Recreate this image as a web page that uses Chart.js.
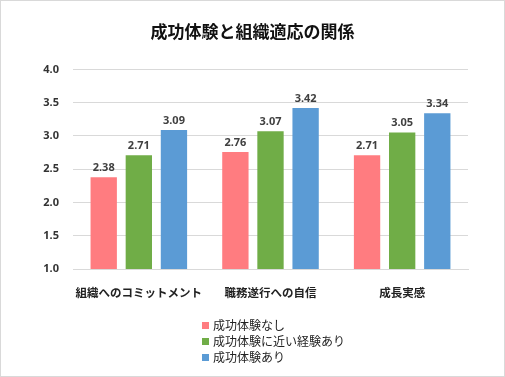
<!DOCTYPE html>
<html><head><meta charset="utf-8">
<script src="https://cdn.jsdelivr.net/npm/chart.js@4"></script>
<style>
html,body{margin:0;padding:0;background:#fff;}
#wrap{position:relative;width:505px;height:377px;overflow:hidden;}
#frame{position:absolute;left:0;top:0;width:503px;height:375px;border:1px solid #d9d9d9;pointer-events:none;}
#legend{position:absolute;left:202px;top:317px;font-family:"Noto Sans CJK JP","Noto Sans",sans-serif;font-size:12px;color:#222;line-height:16px;}
#legend div{display:flex;align-items:center;height:16px;}
#legend span.sw{display:inline-block;width:7px;height:7px;margin-right:4px;}
</style></head>
<body><div id="wrap"><canvas id="c" width="505" height="377"></canvas><div id="legend"></div><div id="frame"></div></div>
<script>
const categories = ["組織へのコミットメント", "職務遂行への自信", "成長実感"];
const seriesNames = ["成功体験なし", "成功体験に近い経験あり", "成功体験あり"];
const noExperience = [2.38, 2.76, 2.71];
const nearExperience = [2.71, 3.07, 3.05];
const withExperience = [3.09, 3.42, 3.34];
const colors = ["#FF7C80", "#70AD47", "#5B9BD5"];
const yTicks = [1.0, 1.5, 2.0, 2.5, 3.0, 3.5, 4.0];
const titleText = "成功体験と組織適応の関係";

const fontFam = "'Noto Sans', 'Noto Sans CJK JP', sans-serif";
const seriesData = [noExperience, nearExperience, withExperience];

const labelPlugin = {
  id: 'valueLabels',
  afterDatasetsDraw(chart) {
    const ctx = chart.ctx;
    ctx.save();
    ctx.font = "bold 11px " + fontFam;
    ctx.fillStyle = "#404040";
    ctx.textAlign = "center";
    ctx.textBaseline = "bottom";
    chart.data.datasets.forEach((ds, i) => {
      const meta = chart.getDatasetMeta(i);
      meta.data.forEach((el, j) => {
        ctx.fillText(ds.data[j].toFixed(2), el.x, el.y - 4);
      });
    });
    ctx.restore();
  }
};

new Chart(document.getElementById('c'), {
  type: 'bar',
  data: {
    labels: categories,
    datasets: seriesNames.map((n, i) => ({
      label: n,
      data: seriesData[i],
      backgroundColor: colors[i],
      categoryPercentage: 0.8,
      barPercentage: 0.75
    }))
  },
  options: {
    responsive: false,
    animation: false,
    devicePixelRatio: 1,
    layout: { padding: 0 },
    plugins: {
      legend: { display: false },
      tooltip: { enabled: false },
      title: {
        display: true, text: titleText, color: "#111",
        font: { family: "'Noto Sans CJK JP', sans-serif", size: 17, weight: 'bold' },
        padding: { top: 21, bottom: 28 }
      }
    },
    scales: {
      x: {
        grid: { display: false },
        border: { color: "#d9d9d9" },
        ticks: { color: "#222", padding: 9, maxRotation: 0, minRotation: 0, autoSkip: false,
          font: { family: "'Noto Sans CJK JP', sans-serif", size: 11.5, weight: 'bold' } },
        afterFit(s) { s.height = 108; }
      },
      y: {
        min: 1, max: 4,
        afterBuildTicks(s) { s.ticks = yTicks.map(v => ({ value: v })); },
        grid: { color: "#d9d9d9", drawTicks: false },
        border: { display: false },
        ticks: { color: "#333", padding: 14, font: { family: fontFam, size: 11, weight: 'bold' },
          callback: v => Number(v).toFixed(1) },
        afterFit(s) { s.width = 73; }
      },
      yR: {
        position: 'right', display: true,
        grid: { display: false, drawTicks: false },
        border: { display: false },
        ticks: { display: false },
        afterFit(s) { s.width = 37; }
      }
    }
  },
  plugins: [labelPlugin]
});

const lg = document.getElementById('legend');
seriesNames.forEach((n, i) => {
  const d = document.createElement('div');
  const sw = document.createElement('span');
  sw.className = 'sw'; sw.style.background = colors[i];
  d.appendChild(sw);
  d.appendChild(document.createTextNode(n));
  lg.appendChild(d);
});
</script></body></html>
